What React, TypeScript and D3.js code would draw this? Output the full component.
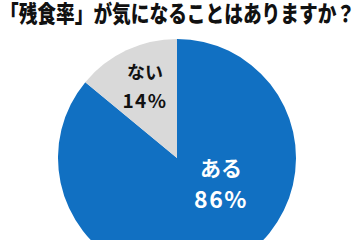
import React from "react";
import * as d3 from "d3";

const title = "「残食率」が気になることはありますか？";
const categories = ["ある", "ない"];
const values = [86, 14];
const colors = ["#1170C2", "#D9D9D9"];
const textColors = ["#FFFFFF", "#111111"];

export default function App() {
  const W = 360, H = 240;
  const cx = 177, cy = 158, r = 119;
  const pie = d3.pie<number>().sort(null).value((d) => d)(values);
  const arc = d3.arc<d3.PieArcDatum<number>>().innerRadius(0).outerRadius(r);
  const labelArcs = [
    { x: 221, y1: 176, y2: 208, fs1: 21, fs2: 23, ls: 1.5 },
    { x: 145, y1: 79, y2: 108, fs1: 18, fs2: 19, ls: 1.5 },
  ];
  const font = "'Noto Sans CJK JP', 'Noto Sans', sans-serif";
  const sy = 1.2;
  return (
    <svg width={W} height={H} style={{ position: "absolute", left: 0, top: 0, background: "#fff" }}>
      <g transform={`scale(1,${sy})`}>
        <text
          x={0}
          y={22 / sy}
          fontFamily={font}
          fontWeight={900}
          fontSize={18.7}
          fill="#111"
        >
          {title}
        </text>
      </g>
      <g transform={`translate(${cx},${cy})`}>
        {pie.map((p, i) => (
          <path key={i} d={arc(p) || ""} fill={colors[i]} />
        ))}
      </g>
      {pie.map((p, i) => {
        const l = labelArcs[i];
        return (
          <g key={"l" + i} fontFamily={font} fontWeight="bold" fill={textColors[i]} textAnchor="middle">
            <text x={l.x} y={l.y1} fontSize={l.fs1}>{categories[i]}</text>
            <text x={l.x} y={l.y2} fontSize={l.fs2} letterSpacing={l.ls}>{`${values[i]}%`}</text>
          </g>
        );
      })}
    </svg>
  );
}
